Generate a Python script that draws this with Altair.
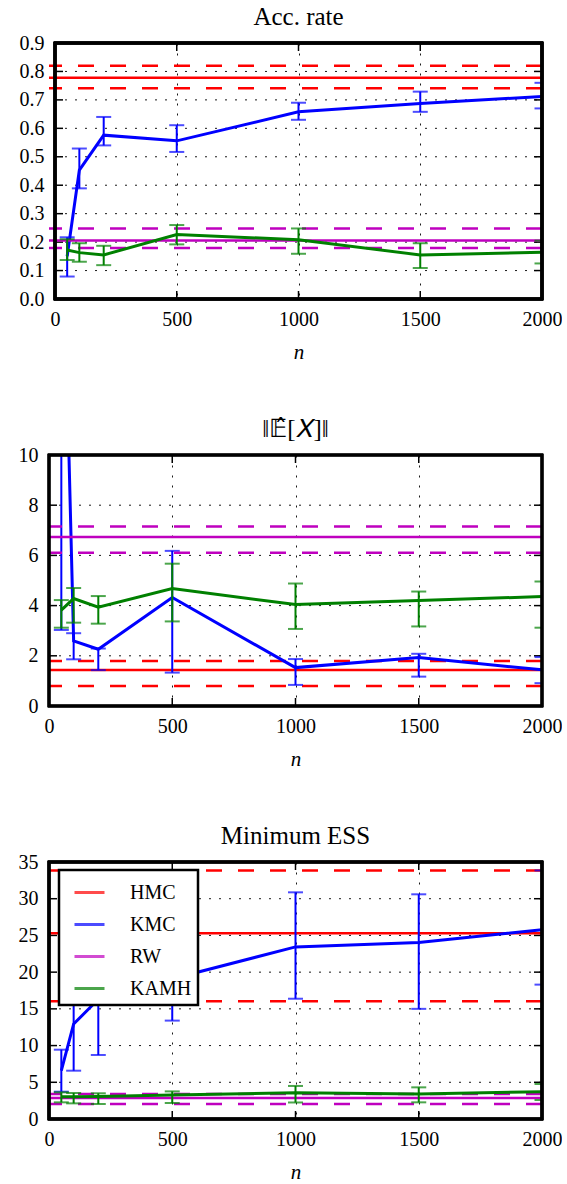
import altair as alt
import pandas as pd

FONT = "Liberation Serif"

N = [50, 100, 200, 500, 1000, 1500, 2000]
SERIES = ["HMC", "KMC", "RW", "KAMH"]
COLORS = ["#ff0000", "#0000ff", "#bf00bf", "#008000"]
X_TICKS = [0, 500, 1000, 1500, 2000]

# ---- Panel 1: acceptance rate ----
acc_hmc = [0.778, 0.741, 0.820]          # mean, low, high
acc_rw = [0.206, 0.179, 0.248]
acc_kmc_mean = [0.15, 0.453, 0.576, 0.556, 0.658, 0.687, 0.712]
acc_kmc_lo = [0.079, 0.389, 0.540, 0.517, 0.630, 0.658, 0.670]
acc_kmc_hi = [0.217, 0.529, 0.640, 0.611, 0.690, 0.729, 0.760]
acc_kamh_mean = [0.172, 0.163, 0.155, 0.227, 0.208, 0.155, 0.164]
acc_kamh_lo = [0.137, 0.131, 0.119, 0.192, 0.159, 0.109, 0.125]
acc_kamh_hi = [0.210, 0.196, 0.187, 0.260, 0.248, 0.196, 0.205]
acc_yticks = [0.0, 0.1, 0.2, 0.3, 0.4, 0.5, 0.6, 0.7, 0.8, 0.9]

# ---- Panel 2: norm of estimated mean ----
norm_hmc = [1.43, 0.80, 1.79]
norm_rw = [6.73, 6.11, 7.15]
norm_kmc_mean = [22.0, 2.59, 2.26, 4.32, 1.53, 1.93, 1.44]
norm_kmc_lo = [3.03, 1.86, 1.43, 1.33, 0.84, 1.17, 0.91]
norm_kmc_hi = [40.0, 2.90, 2.29, 6.18, 1.87, 2.08, 1.95]
norm_kamh_mean = [3.82, 4.28, 3.94, 4.68, 4.04, 4.20, 4.36]
norm_kamh_lo = [3.12, 3.32, 3.28, 3.37, 3.07, 3.17, 3.12]
norm_kamh_hi = [4.22, 4.70, 4.38, 5.67, 4.88, 4.56, 4.96]
norm_yticks = [0, 2, 4, 6, 8, 10]

# ---- Panel 3: minimum ESS ----
ess_hmc = [25.29, 16.02, 33.83]
ess_rw = [2.86, 2.04, 3.41]
ess_kmc_mean = [6.58, 12.94, 16.3, 19.1, 23.44, 24.04, 25.78]
ess_kmc_lo = [3.72, 6.58, 8.72, 13.4, 16.38, 15.0, 18.3]
ess_kmc_hi = [9.44, 19.3, 24.0, 25.0, 30.87, 30.6, 33.85]
ess_kamh_mean = [3.04, 3.04, 3.08, 3.27, 3.58, 3.41, 3.72]
ess_kamh_lo = [2.27, 2.13, 2.04, 2.18, 2.25, 2.27, 2.59]
ess_kamh_hi = [3.63, 3.54, 3.50, 3.76, 4.50, 4.31, 4.77]
ess_yticks = [0, 5, 10, 15, 20, 25, 30, 35]


def panel(title, hmc, rw, kmc, kamh, ymax, yticks, yfmt, width, height,
          left, label_pad, legend, title_dx):
    scale_x = alt.Scale(domain=[0, 2000], nice=False, zero=False, range=[left, width])
    scale_y = alt.Scale(domain=[0, ymax], nice=False, zero=False)
    xaxis = alt.Axis(values=X_TICKS, grid=True, gridDash=[2, 8], gridColor="#000000",
                     gridWidth=1, gridOpacity=0.9, domain=False, ticks=False,
                     labelFont=FONT, labelFontSize=20, labelColor="black",
                     labelPadding=10, labelFlush=False, format="d",
                     title="n", titleFont=FONT, titleFontSize=21,
                     titleFontStyle="italic", titleFontWeight="normal",
                     titleColor="black", titlePadding=12)
    yaxis = alt.Axis(values=yticks, grid=False, domain=False, ticks=False,
                     labelFont=FONT, labelFontSize=20, labelColor="black",
                     labelPadding=label_pad, labelFlush=False, format=yfmt,
                     title=None)
    X = alt.X("n:Q", scale=scale_x, axis=xaxis)
    Y = alt.Y("y:Q", scale=scale_y, axis=yaxis)
    if legend:
        lg = alt.Legend(title=None, orient="none", legendX=10, legendY=8,
                        symbolType="stroke", symbolSize=900, symbolStrokeWidth=3,
                        labelFont=FONT, labelFontSize=20, labelColor="black",
                        labelOffset=24, symbolOffset=8, padding=6, rowPadding=5,
                        fillColor="white", strokeColor="black")
        color = alt.Color("series:N", scale=alt.Scale(domain=SERIES, range=COLORS), legend=lg)
    else:
        color = alt.Color("series:N", scale=alt.Scale(domain=SERIES, range=COLORS), legend=None)

    ref_mean = pd.DataFrame({"series": ["HMC", "RW"], "y": [hmc[0], rw[0]]})
    ref_band = pd.DataFrame({"series": ["HMC", "HMC", "RW", "RW"],
                             "y": [hmc[1], hmc[2], rw[1], rw[2]]})
    rows = []
    for name, (m, lo, hi) in [("KMC", kmc), ("KAMH", kamh)]:
        for i, n in enumerate(N):
            rows.append({"series": name, "n": n, "y": m[i], "lo": lo[i], "hi": hi[i]})
    pts = pd.DataFrame(rows)
    caps = pd.concat([
        pts[["series", "n", "lo"]].rename(columns={"lo": "y"}),
        pts[["series", "n", "hi"]].rename(columns={"hi": "y"}),
    ])
    ygrid = pd.DataFrame({"y": yticks})
    xt = pd.DataFrame({"n": X_TICKS})

    grid = alt.Chart(ygrid).mark_rule(strokeDash=[2, 8], color="#000000", strokeWidth=1,
                                      opacity=0.9).encode(
        y=Y, x=alt.value(left), x2=alt.value(width))
    ytl = alt.Chart(ygrid).mark_rule(color="black", strokeWidth=1.5).encode(
        y=Y, x=alt.value(left), x2=alt.value(left + 8))
    ytr = alt.Chart(ygrid).mark_rule(color="black", strokeWidth=1.5).encode(
        y=Y, x=alt.value(width - 8), x2=alt.value(width))
    xtb = alt.Chart(xt).mark_rule(color="black", strokeWidth=1.5).encode(
        x=X, y=alt.value(height - 8), y2=alt.value(height))
    xtt = alt.Chart(xt).mark_rule(color="black", strokeWidth=1.5).encode(
        x=X, y=alt.value(0), y2=alt.value(8))

    def series_of(name):
        return alt.datum.series == name

    layers = [grid, ytl, ytr, xtb, xtt]
    for name in SERIES:
        if name in ("HMC", "RW"):
            layers.append(alt.Chart(ref_mean).transform_filter(series_of(name))
                          .mark_rule(strokeWidth=2.5, clip=True)
                          .encode(y=Y, color=color))
            layers.append(alt.Chart(ref_band).transform_filter(series_of(name))
                          .mark_rule(strokeWidth=2.5, strokeDash=[16, 16], clip=True)
                          .encode(y=Y, color=color))
        else:
            layers.append(alt.Chart(pts).transform_filter(series_of(name))
                          .mark_line(strokeWidth=3, clip=True)
                          .encode(x=X, y=Y, color=color))
            layers.append(alt.Chart(pts).transform_filter(series_of(name))
                          .mark_rule(strokeWidth=2, clip=True)
                          .encode(x=X, y=alt.Y("lo:Q", scale=scale_y, axis=yaxis),
                                  y2="hi:Q", color=color))
            layers.append(alt.Chart(caps).transform_filter(series_of(name))
                          .mark_tick(orient="horizontal", size=15, thickness=2, clip=True)
                          .encode(x=X, y=Y, color=color))
    frame = alt.Chart(ygrid).mark_rect(filled=False, stroke="black", strokeWidth=2.5).encode(
        x=alt.value(left), x2=alt.value(width), y=alt.value(0), y2=alt.value(height))
    layers.append(frame)

    return alt.layer(*layers).properties(
        width=width, height=height,
        title=alt.TitleParams(title, font=FONT, fontSize=25, fontWeight="normal",
                              color="black", offset=3, dx=title_dx),
        view=alt.ViewBackground(strokeOpacity=0),
    )


p1 = panel("Acc. rate", acc_hmc, acc_rw,
           (acc_kmc_mean, acc_kmc_lo, acc_kmc_hi),
           (acc_kamh_mean, acc_kamh_lo, acc_kamh_hi),
           0.9, acc_yticks, ".1f", 493, 256, 6, 5, False, 3)
p2 = panel("\u2016\U0001D53C\u0302[\U0001D44B]\u2016", norm_hmc, norm_rw,
           (norm_kmc_mean, norm_kmc_lo, norm_kmc_hi),
           (norm_kamh_mean, norm_kamh_lo, norm_kamh_hi),
           10, norm_yticks, "d", 493, 251, 0, 11, False, 0)
p3 = panel("Minimum ESS", ess_hmc, ess_rw,
           (ess_kmc_mean, ess_kmc_lo, ess_kmc_hi),
           (ess_kamh_mean, ess_kamh_lo, ess_kamh_hi),
           35, ess_yticks, "d", 493, 257, 0, 11, True, 0)

chart = alt.vconcat(p1, p2, p3, spacing=55).resolve_scale(
    x="independent", y="independent", color="independent"
).properties(
    padding={"left": 18, "top": 5, "right": 0, "bottom": 0},
    background="white",
).configure(font=FONT).configure_view(stroke=None).configure_legend(strokeWidth=2.5)

chart.save("out.html", embed_options={"renderer": "svg", "actions": False})
